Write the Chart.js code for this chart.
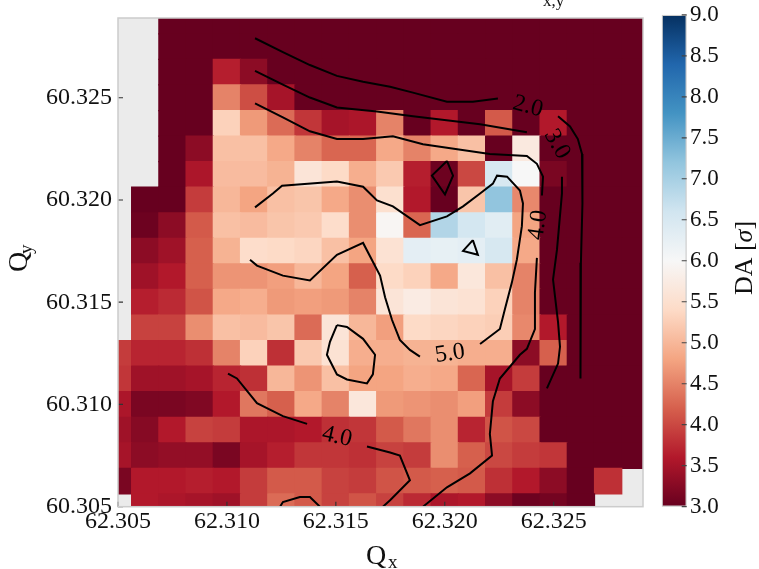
<!DOCTYPE html>
<html>
<head>
<meta charset="utf-8">
<script src="https://cdn.jsdelivr.net/npm/chart.js@4.4.1/dist/chart.umd.min.js"></script>
<style>
  html, body { margin: 0; padding: 0; background: #fff; }
  #wrap { position: relative; width: 759px; height: 569px; overflow: hidden; }
  #heat { position: absolute; left: 0; top: 0; }
  #cbar { position: absolute; left: 643px; top: 0; }
</style>
</head>
<body>
<div id="wrap">
  <canvas id="heat" width="660" height="569"></canvas>
  <canvas id="cbar" width="116" height="569"></canvas>
</div>
<script>
const FONT = "'Liberation Serif', 'Times New Roman', serif";

// tune grid, cell centres
const qx = [62.30500, 62.30625, 62.30750, 62.30875, 62.31000, 62.31125, 62.31250, 62.31375, 62.31500, 62.31625,
            62.31750, 62.31875, 62.32000, 62.32125, 62.32250, 62.32375, 62.32500, 62.32625, 62.32750, 62.32875];
const qy = [60.30500, 60.30625, 60.30750, 60.30875, 60.31000, 60.31125, 60.31250, 60.31375, 60.31500, 60.31625,
            60.31750, 60.31875, 60.32000, 60.32125, 60.32250, 60.32375, 60.32500, 60.32625, 60.32750, 60.32875];
const cellW = 0.00125;
const cellH = 0.00125;

// DA [sigma], rows from top (qy = 60.32875) to bottom (qy = 60.305); null = no data
const da = [
  [null,null,3,3,3,3,3,3,3,3,3,3,3,3,3,3,3,3,3,3],
  [null,null,3,3,3,3,3,3,3,3,3,3,3,3,3,3,3,3,3,3],
  [null,null,3,3,3.65,3.3,3,3,3,3,3,3,3,3,3,3,3,3,3,3],
  [null,null,3,3,4.5,4.05,3.5,3,3,3,3,3,3,3,3,3,3,3,3,3],
  [null,null,3,3,5.3,4.7,4.3,3.85,3.5,3.55,4.5,3,3.6,3,4.15,3,3.6,3,3,3],
  [null,null,3,3.3,5.1,5.1,4.85,4.5,4.25,4.25,4.85,4.5,4.85,5.1,3,5.7,3,3,3,3],
  [null,null,3,3.55,5.05,5.05,4.95,5.6,5.4,4.9,5.2,3.65,3.05,4.0,6.5,6.0,3.15,3,3,3],
  [null,3,3,3.9,5.0,4.8,5.1,5.15,4.85,4.6,5.5,3.6,3.0,5.15,7.2,4.55,3,3,3,3],
  [null,3.05,3.3,4.15,5.1,5.05,5.15,5.2,5.45,4.6,5.95,4.25,6.9,6.55,6.35,4.8,3,3,3,3],
  [null,3.3,3.45,4.2,4.95,5.45,5.4,5.35,5.1,4.8,5.55,6.3,6.25,6.3,6.5,4.85,3,3,3,3],
  [null,3.45,3.6,4.2,4.65,4.65,4.75,5.0,4.8,4.2,5.4,5.3,4.85,5.65,5.1,4.5,3,3,3,3],
  [null,3.65,3.75,4.1,4.85,4.9,4.7,4.75,4.7,4.5,5.6,5.75,5.6,5.55,5.3,4.5,3,3,3,3],
  [null,3.95,3.95,4.6,5.1,5.05,5.15,4.3,5.6,5.0,4.75,5.4,5.35,5.3,5.25,4.55,3.6,3,3,3],
  [3.9,3.7,3.7,3.8,4.5,5.3,3.8,5.2,5.55,4.9,4.9,4.95,4.95,4.9,4.9,3.3,4.2,3,3,3],
  [3.85,3.45,3.45,3.5,3.7,3.8,5.0,4.65,5.1,4.8,4.8,4.9,4.85,4.25,3.5,3.9,3,3,3,3],
  [3.55,3.15,3.15,3.2,3.6,4.4,4.2,4.85,4.5,5.65,4.7,4.65,4.6,4.75,3.9,3.3,3,3,3,3],
  [3.45,3.25,3.6,3.95,3.9,3.55,3.55,3.6,3.8,3.85,4.15,4.4,4.6,3.7,4.1,4.0,3,3,3,3],
  [3.5,3.3,3.35,3.35,3.15,3.5,3.65,3.85,3.85,3.8,3.95,3.9,4.6,4.2,4.0,3.9,3.85,3,3,3],
  [3.15,3.6,3.6,3.65,3.6,3.9,4.15,4.15,3.95,3.9,4.1,4.15,4.2,4.15,3.8,3.6,3.3,3,3.8,null],
  [null,3.6,3.55,3.5,3.45,3.9,4.3,4.15,3.95,4.1,3.95,3.75,3.55,3.6,3.3,3.05,3.1,3,null,null]
];

// contour lines, [Qx, Qy] vertices, split where a label sits
const contour20 = [
  [[62.31129,60.32791],[62.31257,60.32723],[62.31381,60.32660],[62.31505,60.32607],[62.31625,60.32578],
   [62.31749,60.32554],[62.31854,60.32525],[62.32010,60.32481],[62.32129,60.32481],[62.32244,60.32496]],
  [[62.32520,60.32409],[62.32575,60.32360],[62.32611,60.32298],[62.32630,60.32225],[62.32634,60.32143],
   [62.32630,60.31983],[62.32625,60.31693],[62.32625,60.31403],[62.32621,60.31127]]
];
const contour30 = [
  [[62.31129,60.32631],[62.31257,60.32564],[62.31381,60.32501],[62.31505,60.32452],[62.31689,60.32433],
   [62.31854,60.32409],[62.32162,60.32370],[62.32377,60.32331]],
  [[62.32538,60.32114],[62.32538,60.32032],[62.32515,60.31756],[62.32497,60.31611],[62.32520,60.31403],
   [62.32529,60.31282],[62.32520,60.31200],[62.32469,60.31079]]
];
const contour40 = [
  [[62.31129,60.32472],[62.31257,60.32404],[62.31381,60.32336],[62.31505,60.32298],[62.31625,60.32298],
   [62.31762,60.32312],[62.31900,60.32273],[62.32207,60.32225],[62.32377,60.32215],[62.32423,60.32177],
   [62.32451,60.32114],[62.32446,60.32022]],
  [[62.32423,60.31717],[62.32414,60.31548],[62.32414,60.31369],[62.32377,60.31272],[62.32345,60.31243],
   [62.32253,60.31127],[62.32221,60.31016],[62.32207,60.30856],[62.32217,60.30750],[62.32116,60.30663],
   [62.32010,60.30595],[62.31900,60.30500]],
  [[62.31005,60.31151],[62.31046,60.31127],[62.31138,60.31006],[62.31257,60.30943],[62.31368,60.30905]],
  [[62.31643,60.30794],[62.31749,60.30765],[62.31794,60.30750],[62.31840,60.30629],[62.31749,60.30532],
   [62.31716,60.30500]],
  [[62.31244,60.30500],[62.31257,60.30523],[62.31335,60.30547],[62.31381,60.30547],[62.31427,60.30500]],
  [[62.32010,60.32191],[62.32038,60.32119],[62.32001,60.32027],[62.31941,60.32119],[62.32010,60.32191]]
];
const contour50 = [
  [[62.31129,60.31964],[62.31211,60.32032],[62.31253,60.32070],[62.31505,60.32090],[62.31625,60.32065],
   [62.31689,60.31998],[62.31762,60.31969],[62.31886,60.31877],[62.32010,60.31920],[62.32084,60.31969],
   [62.32162,60.32032],[62.32221,60.32080],[62.32240,60.32119],[62.32286,60.32114],[62.32345,60.32046],
   [62.32359,60.31983],[62.32354,60.31872],[62.32331,60.31708],[62.32308,60.31596],[62.32276,60.31466],
   [62.32253,60.31369],[62.32162,60.31296]],
  [[62.31886,60.31234],[62.31840,60.31267],[62.31794,60.31316],[62.31758,60.31413],[62.31726,60.31524],
   [62.31703,60.31630],[62.31625,60.31790],[62.31505,60.31732],[62.31381,60.31606],[62.31257,60.31630],
   [62.31138,60.31679],[62.31106,60.31708]],
  [[62.31505,60.31388],[62.31551,60.31379],[62.31625,60.31321],[62.31680,60.31243],[62.31670,60.31147],
   [62.31643,60.31103],[62.31551,60.31122],[62.31505,60.31147],[62.31459,60.31243],[62.31473,60.31306],
   [62.31505,60.31388]],
  [[62.32129,60.31804],[62.32152,60.31732],[62.32084,60.31751],[62.32129,60.31804]]
];

const contourLabels = [
  { x: 62.32382, y: 60.32457, text: '2.0', angle: 15 },
  { x: 62.32515, y: 60.32273, text: '3.0', angle: 60 },
  { x: 62.32428, y: 60.31877, text: '4.0', angle: -82 },
  { x: 62.31505, y: 60.30842, text: '4.0', angle: 13 },
  { x: 62.32024, y: 60.31248, text: '5.0', angle: -8 }
];

const xTicks = [62.305, 62.310, 62.315, 62.320, 62.325];
const yTicks = [60.305, 60.310, 60.315, 60.320, 60.325];
const cbTicks = [3.0, 3.5, 4.0, 4.5, 5.0, 5.5, 6.0, 6.5, 7.0, 7.5, 8.0, 8.5, 9.0];
const daMin = 3.0;
const daMax = 9.0;

// RdBu
const rdbu = ['#67001f','#b2182b','#d6604d','#f4a582','#fddbc7','#f7f7f7',
              '#d1e5f0','#92c5de','#4393c3','#2166ac','#053061'];

function hexRgb(h) {
  return [parseInt(h.slice(1, 3), 16), parseInt(h.slice(3, 5), 16), parseInt(h.slice(5, 7), 16)];
}

function cmap(v) {
  let t = (v - daMin) / (daMax - daMin);
  t = Math.max(0, Math.min(1, t));
  const p = t * (rdbu.length - 1);
  const i = Math.min(rdbu.length - 2, Math.floor(p));
  const f = p - i;
  const a = hexRgb(rdbu[i]);
  const b = hexRgb(rdbu[i + 1]);
  return 'rgb(' + a.map((c, k) => Math.round(c + (b[k] - c) * f)).join(',') + ')';
}

const cells = [];
da.forEach((row, r) => {
  const j = qy.length - 1 - r;
  row.forEach((v, i) => {
    if (v === null) return;
    cells.push({ x: qx[i], y: [qy[j] - cellH / 2, qy[j] + cellH / 2], v: v });
  });
});

const contourDatasets = [contour20, contour30, contour40, contour50].flat().map(seg => ({
  type: 'line',
  data: seg.map(p => ({ x: p[0], y: p[1] })),
  borderColor: '#000',
  borderWidth: 2,
  pointRadius: 0,
  fill: false,
  tension: 0,
  clip: 0,
  order: 0
}));

const heatDecor = {
  id: 'heatDecor',
  beforeDatasetsDraw(chart) {
    const { ctx, chartArea: a } = chart;
    ctx.save();
    ctx.fillStyle = '#ebebeb';
    ctx.fillRect(a.left, a.top, a.width, a.height);
    ctx.restore();
  },
  afterDatasetsDraw(chart) {
    const { ctx, chartArea: a, scales: { x, y } } = chart;
    ctx.save();
    ctx.fillStyle = '#000';
    ctx.font = '24px ' + FONT;
    ctx.textAlign = 'center';
    ctx.textBaseline = 'middle';
    contourLabels.forEach(l => {
      ctx.save();
      ctx.translate(x.getPixelForValue(l.x), y.getPixelForValue(l.y));
      ctx.rotate(l.angle * Math.PI / 180);
      ctx.fillText(l.text, 0, 0);
      ctx.restore();
    });

    // ticks point inwards
    ctx.strokeStyle = '#333';
    ctx.lineWidth = 1.2;
    ctx.beginPath();
    x.ticks.forEach(t => {
      const px = x.getPixelForValue(t.value);
      ctx.moveTo(px, a.bottom);
      ctx.lineTo(px, a.bottom - 5);
    });
    y.ticks.forEach(t => {
      const py = y.getPixelForValue(t.value);
      ctx.moveTo(a.left, py);
      ctx.lineTo(a.left + 5, py);
    });
    ctx.stroke();

    ctx.strokeStyle = '#cccccc';
    ctx.lineWidth = 1.5;
    ctx.strokeRect(a.left, a.top, a.width, a.height);
    ctx.restore();
  },
  afterDraw(chart) {
    const { ctx } = chart;
    ctx.save();
    ctx.fillStyle = '#111';
    ctx.textBaseline = 'alphabetic';

    // title, mostly above the frame
    ctx.textAlign = 'right';
    ctx.font = '28px ' + FONT;
    ctx.fillText('Dynamic aperture vs. Q', 541, -6);
    ctx.textAlign = 'left';
    ctx.font = '17px ' + FONT;
    ctx.fillText('x,y', 543, 6);

    // x label
    ctx.font = '28px ' + FONT;
    ctx.fillText('Q', 366, 564);
    ctx.font = '19px ' + FONT;
    ctx.fillText('x', 388, 568);

    // y label
    ctx.translate(27, 272);
    ctx.rotate(-Math.PI / 2);
    ctx.font = '28px ' + FONT;
    ctx.fillText('Q', 0, 0);
    ctx.font = '19px ' + FONT;
    ctx.fillText('y', 18, 5);
    ctx.restore();
  }
};

new Chart(document.getElementById('heat'), {
  type: 'bar',
  data: {
    datasets: [
      {
        type: 'bar',
        data: cells,
        backgroundColor: ctx => cmap(ctx.raw.v),
        borderWidth: 0,
        inflateAmount: 0.6,
        barPercentage: 1,
        categoryPercentage: 1,
        clip: 0,
        order: 1
      },
      ...contourDatasets
    ]
  },
  options: {
    responsive: false,
    animation: false,
    events: [],
    layout: { padding: { left: 0, right: 17, top: 13.3, bottom: 0 } },
    plugins: {
      legend: { display: false },
      tooltip: { enabled: false }
    },
    scales: {
      x: {
        type: 'linear',
        min: 62.305,
        max: 62.3291,
        offset: false,
        grid: { display: false, offset: false, drawTicks: false },
        border: { display: false },
        afterBuildTicks: s => { s.ticks = xTicks.map(v => ({ value: v })); },
        afterFit: s => { s.height = 62.3; },
        ticks: {
          padding: 1,
          color: '#111',
          autoSkip: false,
          maxRotation: 0,
          font: { family: FONT, size: 24 },
          callback: v => Number(v).toFixed(3)
        }
      },
      y: {
        type: 'linear',
        min: 60.305,
        max: 60.3289,
        grid: { display: false, drawTicks: false },
        border: { display: false },
        afterBuildTicks: s => { s.ticks = yTicks.map(v => ({ value: v })); },
        afterFit: s => { s.width = 118; },
        ticks: {
          padding: 6,
          color: '#111',
          autoSkip: false,
          font: { family: FONT, size: 24, lineHeight: 1 },
          callback: v => Number(v).toFixed(3)
        }
      }
    }
  },
  plugins: [heatDecor]
});

// colour bar
const cbarDecor = {
  id: 'cbarDecor',
  afterDatasetsDraw(chart) {
    const { ctx, chartArea: a, scales: { y } } = chart;
    ctx.save();
    ctx.strokeStyle = '#444';
    ctx.lineWidth = 1.2;
    ctx.beginPath();
    y.ticks.forEach(t => {
      const py = y.getPixelForValue(t.value);
      ctx.moveTo(a.right - 5, py);
      ctx.lineTo(a.right, py);
    });
    ctx.stroke();
    ctx.restore();
  },
  afterDraw(chart) {
    const { ctx, chartArea: a } = chart;
    const parts = [['DA [', '26px ' + FONT], ['\u03c3', 'italic 26px ' + FONT], [']', '26px ' + FONT]];
    let total = 0;
    parts.forEach(p => { ctx.font = p[1]; total += ctx.measureText(p[0]).width; });
    ctx.save();
    ctx.fillStyle = '#111';
    ctx.textBaseline = 'alphabetic';
    ctx.textAlign = 'left';
    ctx.translate(109, 258);
    ctx.rotate(-Math.PI / 2);
    let cx = -total / 2;
    parts.forEach(p => {
      ctx.font = p[1];
      ctx.fillText(p[0], cx, 0);
      cx += ctx.measureText(p[0]).width;
    });
    ctx.restore();
  }
};

new Chart(document.getElementById('cbar'), {
  type: 'bar',
  data: {
    labels: ['DA'],
    datasets: [{
      data: [[daMin, daMax]],
      backgroundColor: ctx => {
        const ch = ctx.chart;
        if (!ch.chartArea) return '#f7f7f7';
        const s = ch.scales.y;
        const g = ch.ctx.createLinearGradient(0, s.getPixelForValue(daMin), 0, s.getPixelForValue(daMax));
        rdbu.forEach((c, k) => g.addColorStop(k / (rdbu.length - 1), c));
        return g;
      },
      borderColor: '#cccccc',
      borderWidth: 1.5,
      borderSkipped: false,
      barPercentage: 1,
      categoryPercentage: 1
    }]
  },
  options: {
    responsive: false,
    animation: false,
    events: [],
    layout: { padding: { left: 18.7, right: 0, top: 13.3, bottom: 62.3 } },
    plugins: {
      legend: { display: false },
      tooltip: { enabled: false }
    },
    scales: {
      x: { display: false },
      y: {
        position: 'right',
        min: daMin,
        max: daMax,
        grid: { display: false, drawTicks: false },
        border: { display: false },
        afterBuildTicks: s => { s.ticks = cbTicks.map(v => ({ value: v })); },
        afterFit: s => { s.width = 72.3; },
        ticks: {
          padding: 3.3,
          color: '#111',
          font: { family: FONT, size: 23, lineHeight: 1 },
          callback: v => Number(v).toFixed(1)
        }
      }
    }
  },
  plugins: [cbarDecor]
});
</script>
</body>
</html>
